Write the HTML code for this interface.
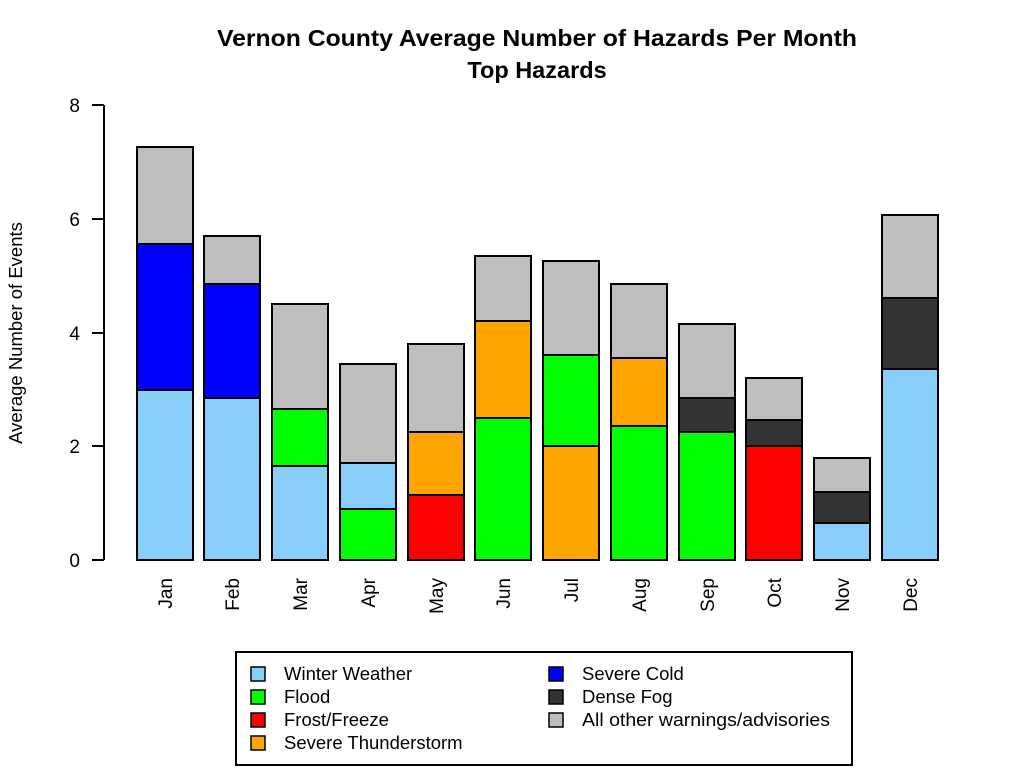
<!DOCTYPE html>
<html><head><style>body{margin:0;background:#fff}svg{display:block}</style></head><body>
<svg width="1024" height="768" xmlns="http://www.w3.org/2000/svg" font-family="Liberation Sans, Arial, sans-serif">
<rect width="1024" height="768" fill="#fff"/>
<text x="537" y="46" font-size="23.5" font-weight="bold" text-anchor="middle" textLength="640" lengthAdjust="spacingAndGlyphs">Vernon County Average Number of Hazards Per Month</text>
<text x="537" y="78" font-size="23.5" font-weight="bold" text-anchor="middle">Top Hazards</text>
<g stroke="#000" stroke-width="2">
<line x1="104" y1="105" x2="104" y2="560"/>
<line x1="92" y1="105" x2="104" y2="105"/><line x1="92" y1="219" x2="104" y2="219"/>
<line x1="92" y1="333" x2="104" y2="333"/><line x1="92" y1="446" x2="104" y2="446"/>
<line x1="92" y1="560" x2="104" y2="560"/>
</g>
<g font-size="19" text-anchor="end">
<text x="80" y="112">8</text><text x="80" y="226">6</text><text x="80" y="340">4</text><text x="80" y="453">2</text><text x="80" y="567">0</text>
</g>
<text transform="translate(22,333) rotate(-90)" font-size="18.5" text-anchor="middle">Average Number of Events</text>
<g stroke="#000" stroke-width="2">
<rect x="137" y="390" width="56" height="170" fill="#87cefa"/><rect x="137" y="244" width="56" height="146" fill="#0000ff"/><rect x="137" y="147" width="56" height="97" fill="#bebebe"/>
<rect x="204" y="398" width="56" height="162" fill="#87cefa"/><rect x="204" y="284" width="56" height="114" fill="#0000ff"/><rect x="204" y="236" width="56" height="48" fill="#bebebe"/>
<rect x="272" y="466" width="56" height="94" fill="#87cefa"/><rect x="272" y="409" width="56" height="57" fill="#00ff00"/><rect x="272" y="304" width="56" height="105" fill="#bebebe"/>
<rect x="340" y="509" width="56" height="51" fill="#00ff00"/><rect x="340" y="463" width="56" height="46" fill="#87cefa"/><rect x="340" y="364" width="56" height="99" fill="#bebebe"/>
<rect x="408" y="495" width="56" height="65" fill="#ff0000"/><rect x="408" y="432" width="56" height="63" fill="#ffa500"/><rect x="408" y="344" width="56" height="88" fill="#bebebe"/>
<rect x="475" y="418" width="56" height="142" fill="#00ff00"/><rect x="475" y="321" width="56" height="97" fill="#ffa500"/><rect x="475" y="256" width="56" height="65" fill="#bebebe"/>
<rect x="543" y="446" width="56" height="114" fill="#ffa500"/><rect x="543" y="355" width="56" height="91" fill="#00ff00"/><rect x="543" y="261" width="56" height="94" fill="#bebebe"/>
<rect x="611" y="426" width="56" height="134" fill="#00ff00"/><rect x="611" y="358" width="56" height="68" fill="#ffa500"/><rect x="611" y="284" width="56" height="74" fill="#bebebe"/>
<rect x="679" y="432" width="56" height="128" fill="#00ff00"/><rect x="679" y="398" width="56" height="34" fill="#333333"/><rect x="679" y="324" width="56" height="74" fill="#bebebe"/>
<rect x="746" y="446" width="56" height="114" fill="#ff0000"/><rect x="746" y="420" width="56" height="26" fill="#333333"/><rect x="746" y="378" width="56" height="42" fill="#bebebe"/>
<rect x="814" y="523" width="56" height="37" fill="#87cefa"/><rect x="814" y="492" width="56" height="31" fill="#333333"/><rect x="814" y="458" width="56" height="34" fill="#bebebe"/>
<rect x="882" y="369" width="56" height="191" fill="#87cefa"/><rect x="882" y="298" width="56" height="71" fill="#333333"/><rect x="882" y="215" width="56" height="83" fill="#bebebe"/>
</g>
<g font-size="19" text-anchor="end">
<text transform="translate(172,578) rotate(-90)">Jan</text>
<text transform="translate(239,578) rotate(-90)">Feb</text>
<text transform="translate(307,578) rotate(-90)">Mar</text>
<text transform="translate(375,578) rotate(-90)">Apr</text>
<text transform="translate(443,578) rotate(-90)">May</text>
<text transform="translate(510,578) rotate(-90)">Jun</text>
<text transform="translate(578,578) rotate(-90)">Jul</text>
<text transform="translate(646,578) rotate(-90)">Aug</text>
<text transform="translate(714,578) rotate(-90)">Sep</text>
<text transform="translate(781,578) rotate(-90)">Oct</text>
<text transform="translate(849,578) rotate(-90)">Nov</text>
<text transform="translate(917,578) rotate(-90)">Dec</text>
</g>
<rect x="236" y="652" width="616" height="113" fill="none" stroke="#000" stroke-width="2"/>
<g stroke="#000" stroke-width="1.5">
<rect x="251" y="667" width="14" height="14" fill="#87cefa"/>
<rect x="251" y="690" width="14" height="14" fill="#00ff00"/>
<rect x="251" y="713" width="14" height="14" fill="#ff0000"/>
<rect x="251" y="736" width="14" height="14" fill="#ffa500"/>
<rect x="549" y="667" width="14" height="14" fill="#0000ff"/>
<rect x="549" y="690" width="14" height="14" fill="#333333"/>
<rect x="549" y="713" width="14" height="14" fill="#bebebe"/>
</g>
<g font-size="18.5">
<text x="284" y="680">Winter Weather</text>
<text x="284" y="703">Flood</text>
<text x="284" y="726">Frost/Freeze</text>
<text x="284" y="749">Severe Thunderstorm</text>
<text x="582" y="680">Severe Cold</text>
<text x="582" y="703">Dense Fog</text>
<text x="582" y="726" textLength="248" lengthAdjust="spacingAndGlyphs">All other warnings/advisories</text>
</g>
</svg>
</body></html>
